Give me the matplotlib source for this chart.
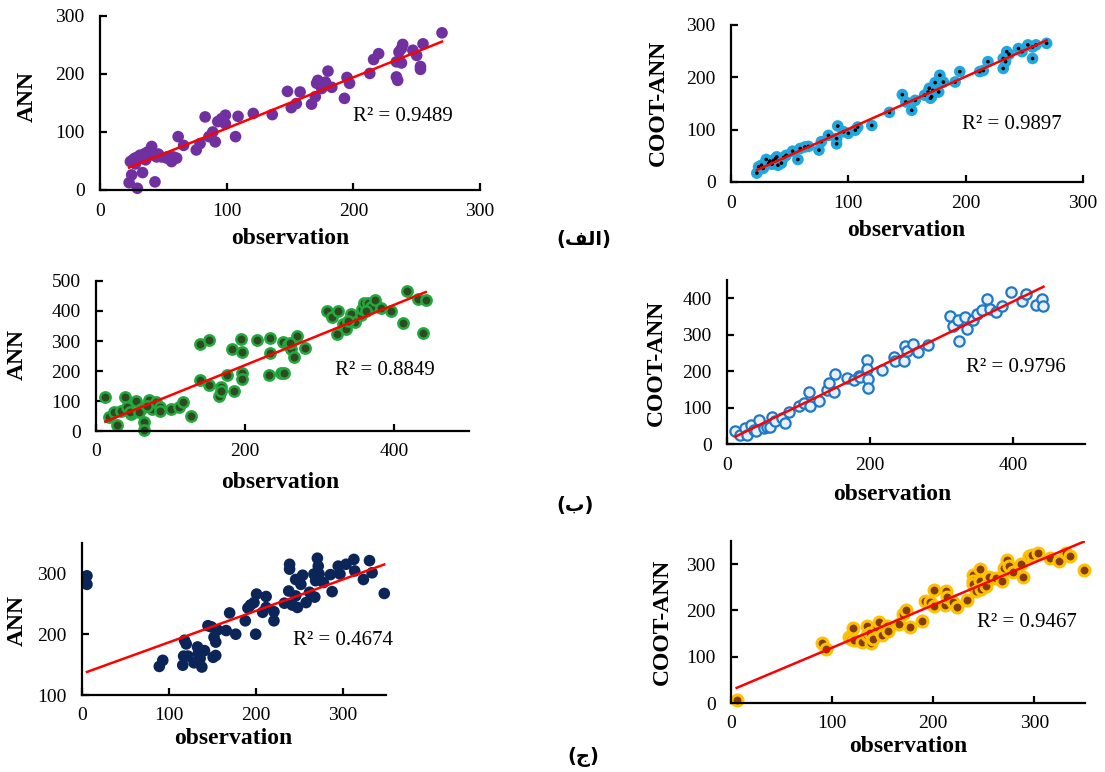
import numpy as np
import matplotlib
matplotlib.use("Agg")
import matplotlib.pyplot as plt

plt.rcParams['font.family'] = ['Liberation Serif', 'DejaVu Serif']

# ---------------- data ----------------
# (الف) ANN
obs1 = [23, 29.5, 25, 24, 27.6, 31.6, 35.5, 40.8, 42, 44.7, 48.6, 52.6, 56.5, 60.5, 33.6, 43.4, 26, 30, 34, 38,
        28, 36, 41, 46, 53, 57, 58, 61.7, 66, 76, 79, 83, 86, 89, 91, 93, 96, 99, 99, 107,
        109, 121, 136, 148, 151, 155, 158, 167, 170, 171, 172, 175, 178, 180, 183, 193, 195, 197, 213, 216,
        220, 234, 235, 234, 236, 238, 239, 238, 247, 250, 255, 253, 253, 270]
ann1 = [12.6, 3, 26, 49, 55, 60, 63, 75, 60, 57, 57, 55, 49, 55, 30, 14, 52, 57, 58, 66,
        45, 52, 68, 62, 57, 52, 57, 92, 77, 69, 80, 126, 92, 100, 83, 118, 123, 129, 114, 92,
        127, 132, 130, 170, 142, 149, 169, 148, 161, 184, 189, 175, 186, 205, 177, 158, 194, 184, 201, 225,
        235, 195, 189, 221, 238, 244, 251, 219, 241, 232, 252, 213, 208, 271]
# (الف) COOT-ANN
obs2 = [22, 23.5, 27.5, 30, 32, 35, 36, 39, 40, 43, 47, 52.5, 57, 59, 63, 66, 75, 77, 83, 90,
        90, 91, 96, 100, 106, 108, 120, 135, 146, 149, 154, 157, 165, 168, 169, 171, 174, 178, 177, 181,
        191, 195, 212, 215, 219, 232, 232, 234, 235, 237, 245, 248, 253, 257, 257, 260, 269,
        26, 33, 38, 45, 170, 172]
coot2 = [17, 29, 26, 43, 35, 34, 41, 48, 32, 36, 51, 59, 43, 64, 67, 68, 61, 77, 89, 73,
         83, 107, 96, 93, 99, 105, 108, 133, 167, 153, 137, 156, 166, 172, 179, 163, 190, 204, 172, 191,
         191, 211, 211, 213, 230, 217, 236, 230, 249, 244, 255, 249, 262, 258, 236, 262, 265,
         32, 40, 45, 47, 160, 175]
# (ب) ANN
obs3 = [12.5, 17, 24, 28, 33, 38.5, 42, 47, 54, 60, 64, 64, 71, 75, 80, 86, 86, 100, 111, 116,
        128, 139, 140, 151, 151, 165, 167, 168, 175, 182, 185, 194, 196, 196, 196, 216, 232, 233, 233, 248,
        250, 257, 261, 266, 269, 280, 310, 316, 324, 323, 331, 335, 342, 347, 355, 357, 359, 364, 369, 374,
        382, 396, 411, 417, 431, 439, 442, 45, 58, 68, 260, 338, 252, 362]
ann3 = [114, 48, 64, 20, 68, 112, 81, 57, 101, 75, 31, 3, 103, 75, 98, 81, 68, 72, 81, 98,
        50, 289, 170, 305, 155, 116, 147, 134, 186, 275, 134, 306, 264, 192, 172, 305, 186, 311, 261, 194,
        297, 286, 272, 247, 316, 278, 400, 380, 400, 325, 358, 341, 391, 364, 386, 405, 427, 425, 414, 438,
        411, 400, 360, 467, 441, 327, 436, 62, 65, 85, 292, 365, 195, 400]
# (ب) COOT-ANN
obs4 = [11.6, 18.6, 25.6, 28, 33.5, 38, 41, 44, 51, 56, 60.5, 63, 67, 77, 81, 86, 101, 107, 114, 116,
        129, 140, 142, 150, 151, 167, 177, 184, 186, 195, 195, 197, 197, 216, 233, 234, 247, 248, 251, 260,
        267, 281, 311, 316, 323, 324, 333, 335, 343, 349, 356, 363, 367, 376, 384, 396, 412, 418, 432, 440, 442]
coot4 = [35, 25, 44, 25, 53, 39, 35, 66, 44, 48, 48, 75, 62, 71, 57, 89, 103, 112, 144, 103,
         119, 148, 168, 144, 192, 180, 175, 186, 185, 230, 207, 177, 153, 203, 239, 228, 228, 268, 255, 275,
         253, 271, 350, 325, 339, 283, 348, 316, 341, 357, 368, 398, 371, 362, 380, 416, 392, 412, 382, 398, 380]
# (ج) ANN
obs5 = [5.7, 5.7, 89, 93, 118, 120, 117, 116, 122, 129, 133, 134, 136, 138, 141, 145, 149, 151, 152, 154,
        154, 156, 166, 170, 177, 188, 191, 194, 198, 200, 201, 208, 212, 212, 221, 221, 233, 238, 239, 239,
        242, 246, 246, 248, 252, 254, 258, 262, 267, 268, 269, 271, 272, 273, 278, 286, 288, 295, 297, 304,
        313, 314, 324, 331, 334, 348]
ann5 = [296, 282, 147, 157, 190, 184, 164, 149, 164, 153, 179, 169, 160, 146, 173, 214, 212, 162, 195, 165,
        187, 207, 206, 235, 200, 222, 243, 248, 252, 200, 266, 236, 262, 244, 237, 222, 251, 271, 315, 307,
        248, 263, 290, 244, 282, 297, 252, 269, 299, 261, 288, 325, 312, 299, 285, 298, 270, 312, 299, 315,
        323, 304, 290, 321, 301, 267]
# (ج) COOT-ANN
obs6 = [5.6, 89.5, 94, 117, 119, 121, 122, 130, 134, 134, 137, 138, 140, 144, 146, 149, 154, 155, 166, 170,
        173, 177, 189, 192, 197, 201, 201, 212, 213, 214, 219, 223, 233, 239, 239, 239, 242, 246, 246, 247,
        252, 255, 262, 268, 270, 273, 275, 279, 287, 289, 295, 298, 304, 315, 324, 331, 335, 349]
coot6 = [6, 129, 117, 142, 139, 162, 136, 131, 167, 146, 151, 129, 139, 164, 174, 146, 167, 156, 171, 192,
         201, 165, 177, 221, 218, 244, 210, 212, 241, 230, 218, 208, 223, 277, 264, 257, 243, 289, 264, 246,
         253, 273, 271, 264, 291, 309, 296, 284, 300, 273, 318, 320, 323, 314, 306, 325, 318, 287]

r2_labels = ["R² = 0.9489", "R² = 0.9897", "R² = 0.8849", "R² = 0.9796", "R² = 0.4674", "R² = 0.9467"]
y_labels = ["ANN", "COOT-ANN", "ANN", "COOT-ANN", "ANN", "COOT-ANN"]
x_label = "observation"
# Persian panel labels written in visual (shaped) order
panel_labels = ["(\uFED2\uFEDF\uFE8D)", "(\uFE8F)", "(\uFE9D)"]

# ---------------- layout ----------------
W, H = 1105, 772
fig = plt.figure(figsize=(W / 100, H / 100), dpi=100)

def fx(p):
    return p / W

def fy(p):
    return 1 - p / H

panels = [
    dict(x=obs1, y=ann1, box=(100, 480, 16, 190), xlim=(0, 300), ylim=(0, 300), xt=[0, 100, 200, 300],
         yt=[0, 100, 200, 300], r2=(200, 126), ylab=(27, 97), xlab=(290, 238),
         style=dict(s=70, c="#7030A0", edgecolors="none")),
    dict(x=obs2, y=coot2, box=(731, 1083, 25, 182), xlim=(0, 300), ylim=(0, 300), xt=[0, 100, 200, 300],
         yt=[0, 100, 200, 300], r2=(197, 109), ylab=(658, 103), xlab=(906, 230),
         style=dict(s=70, c="#1FA8E0", edgecolors="none"), dot=dict(s=7, c="black")),
    dict(x=obs3, y=ann3, box=(96, 469, 281, 431), xlim=(0, 500), ylim=(0, 500), xt=[0, 200, 400],
         yt=[0, 100, 200, 300, 400, 500], r2=(320, 203), ylab=(17, 354), xlab=(280, 482),
         style=dict(s=55, c="#2E4A1F", edgecolors="#22A83E", linewidths=1.8)),
    dict(x=obs4, y=coot4, box=(727, 1085, 280, 444), xlim=(0, 500), ylim=(0, 450), xt=[0, 200, 400],
         yt=[0, 100, 200, 300, 400], r2=(334, 211), ylab=(656, 363), xlab=(892, 495),
         style=dict(s=55, c="#E6F0FA", edgecolors="#1F78C8", linewidths=1.6)),
    dict(x=obs5, y=ann5, box=(82, 386, 543, 695), xlim=(0, 350), ylim=(100, 350), xt=[0, 100, 200, 300],
         yt=[100, 200, 300], r2=(243, 189), ylab=(17, 621), xlab=(233, 738),
         style=dict(s=70, c="#0B2558", edgecolors="none")),
    dict(x=obs6, y=coot6, box=(731, 1085, 541, 703), xlim=(0, 350), ylim=(0, 350), xt=[0, 100, 200, 300],
         yt=[0, 100, 200, 300], r2=(243, 174), ylab=(662, 622), xlab=(908, 747),
         style=dict(s=62, c="#843C0C", edgecolors="#FFC000", linewidths=2.2)),
]

for i, p in enumerate(panels):
    l, r, t, b = p["box"]
    ax = fig.add_axes([fx(l), fy(b), (r - l) / W, (b - t) / H])
    x = np.asarray(p["x"], float)
    y = np.asarray(p["y"], float)
    ax.scatter(x, y, zorder=2, clip_on=False, **p["style"])
    if "dot" in p:
        ax.scatter(x, y, zorder=3, clip_on=False, edgecolors="none", **p["dot"])
    coef = np.polyfit(x, y, 1)
    xs = np.array([x.min(), x.max()])
    ax.plot(xs, np.polyval(coef, xs), color="#FF0000", lw=1.8, zorder=4)
    ax.set_xlim(*p["xlim"])
    ax.set_ylim(*p["ylim"])
    ax.set_xticks(p["xt"])
    ax.set_yticks(p["yt"])
    for s in ("top", "right"):
        ax.spines[s].set_visible(False)
    for s in ("left", "bottom"):
        ax.spines[s].set_linewidth(1.6)
        ax.spines[s].set_color("black")
    ax.tick_params(direction="in", length=5, width=1.6, labelsize=14, colors="black")
    ax.tick_params(axis="x", pad=9)
    ax.tick_params(axis="y", pad=11)
    ax.text(p["r2"][0], p["r2"][1], r2_labels[i], fontsize=15, ha="left", va="center", zorder=5)
    ax.set_xlabel(x_label, fontsize=17, fontweight="bold", va="center", ha="center")
    ax.xaxis.set_label_coords(fx(p["xlab"][0]), fy(p["xlab"][1]), transform=fig.transFigure)
    ax.set_ylabel(y_labels[i], fontsize=17, fontweight="bold", va="center", ha="center")
    ax.yaxis.set_label_coords(fx(p["ylab"][0]), fy(p["ylab"][1]), transform=fig.transFigure)
    ax.patch.set_alpha(0)

for lab, (px, py) in zip(panel_labels, [(584, 240), (575, 505), (583, 757)]):
    fig.text(fx(px), fy(py), lab, fontsize=14, fontweight="bold", ha="center", va="center",
             family=["DejaVu Sans"])

fig.savefig("out.png", dpi=100)
